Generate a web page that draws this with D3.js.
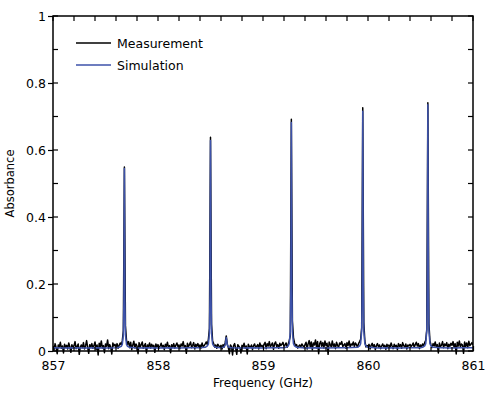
<!DOCTYPE html>
<html>
<head>
<meta charset="utf-8">
<script src="https://cdn.jsdelivr.net/npm/d3@7/dist/d3.min.js"></script>
<style>
  html, body { margin: 0; padding: 0; background: #fff; }
  svg { display: block; }
  text { font-family: "DejaVu Sans", Verdana, sans-serif; fill: #000; }
</style>
</head>
<body>
<svg id="chart" width="489" height="394"></svg>
<script>
// ---- Data ----
const xDomain = [857, 861];
const yDomain = [0, 1];
const xTickValues = [857, 858, 859, 860, 861];
const yTickValues = [0, 0.2, 0.4, 0.6, 0.8, 1];
const yTickLabels = ["0", "0.2", "0.4", "0.6", "0.8", "1"];
const seriesNames = ["Measurement", "Simulation"];

// Measurement: sampled every 0.01 GHz starting at 857.00
const measStart = 857.00;
const measStep = 0.01;
const measAbs = [
  .015,.004,.022,.010,-.008,.018,.012,.026,.008,.015,-.006,.020,.011,.017,.006,.024,.013,-.004,.019,.009,
  .016,.028,.007,.014,.021,-.010,.012,.018,.010,.025,.006,.015,.031,.011,-.007,.019,.013,.022,.008,.016,
  .027,.005,.018,-.012,.023,.012,.030,.009,.016,-.005,.021,.014,.033,.007,.019,.011,-.009,.024,.015,.020,
  .012,.022,.008,.017,.024,.018,.030,.060,.549,.075,.032,.020,.028,.010,.026,.004,.018,.029,.009,.021,
  .015,-.008,.025,.011,.019,.027,.008,.016,.022,-.006,.018,.013,.024,.009,.020,.014,.017,-.004,.021,.012,
  .019,.008,.015,.023,.011,.017,.004,.020,.014,.026,.010,.016,-.005,.019,.012,.022,.009,.017,.024,.013,
  .018,.007,.021,.015,.028,.011,.016,-.007,.023,.013,.019,.027,.010,.017,.025,.006,.020,.014,.022,.012,
  .018,.009,.024,.013,.016,.021,.027,.019,.035,.068,.638,.080,.030,.022,.012,.018,.008,.020,.015,.011,
  .017,.006,.019,.012,.025,.045,.020,.010,-.008,.018,.013,-.012,.016,.022,.008,-.010,.019,.014,.010,-.006,
  .017,.012,.023,.009,.015,-.009,.020,.013,.011,.018,.004,.016,.021,.010,.014,.019,.006,.024,.013,.017,
  .011,.020,.026,.007,.022,.015,.028,.012,.018,.024,.005,.021,.027,.014,.019,.008,.023,.016,.020,.026,
  .013,.018,.024,.011,.020,.031,.045,.692,.090,.040,.025,.015,.019,.009,.014,.018,.012,.021,.016,.010,
  .019,.026,.006,.022,.031,.012,.027,.003,.024,.018,.033,.010,.028,-.008,.022,.029,.014,.025,.009,.030,
  .016,.023,-.010,.027,.019,.012,.030,.014,.021,.007,.026,.017,.011,.024,.020,.028,.013,.018,.022,.008,
  .025,.016,.030,.012,.021,.018,.027,.013,.024,.019,.011,.022,.028,.035,.070,.726,.085,.030,.012,.016,
  .014,.020,.006,.017,.023,.011,.019,.004,.016,.022,.012,.018,.007,.015,.021,.013,.017,.005,.020,.014,
  .018,.011,.024,.015,.007,.020,.013,.017,.004,.022,.014,.019,.008,.025,.016,.012,.021,.006,.018,.015,
  .020,.013,.017,.024,.011,.019,.026,.015,.022,.007,.018,.012,.021,.016,.025,.032,.065,.741,.082,.030,
  .018,.010,.022,.015,.027,.012,.019,-.006,.024,.013,.017,.028,.010,.021,.016,.025,.007,.020,.014,.023,
  .017,.028,.011,.022,-.009,.026,.015,.030,.012,.021,.018,-.007,.027,.014,.024,.010,.029,.016,.020,.025,
  .018
];

// Simulation: explicit frequency / absorbance pairs
const simFreq = [
  857.00,857.10,857.20,857.30,857.40,857.50,857.60,
  857.63,857.65,857.66,857.67,857.675,857.68,857.685,857.69,857.70,857.71,857.73,
  857.80,857.90,858.00,858.10,858.20,858.30,858.40,
  858.45,858.47,858.48,858.49,858.495,858.50,858.505,858.51,858.52,858.53,858.55,
  858.60,858.63,858.64,858.65,858.66,858.67,858.70,
  858.80,858.90,859.00,859.10,859.20,
  859.22,859.24,859.25,859.26,859.265,859.27,859.275,859.28,859.29,859.30,859.32,
  859.40,859.50,859.60,859.70,859.80,
  859.90,859.92,859.93,859.94,859.945,859.95,859.955,859.96,859.97,859.98,860.00,
  860.10,860.20,860.30,860.40,860.50,
  860.52,860.54,860.55,860.56,860.565,860.57,860.575,860.58,860.59,860.60,860.62,
  860.70,860.80,860.90,861.00
];
const simAbs = [
  .010,.009,.010,.009,.010,.009,.010,
  .011,.014,.020,.048,.150,.545,.150,.048,.020,.014,.011,
  .009,.010,.009,.010,.009,.010,.010,
  .011,.015,.021,.053,.170,.628,.170,.053,.021,.015,.011,
  .010,.012,.018,.040,.018,.012,.010,
  .009,.010,.009,.010,.010,
  .011,.015,.022,.057,.185,.682,.185,.057,.022,.015,.011,
  .009,.010,.009,.010,.010,
  .011,.015,.022,.060,.195,.716,.195,.060,.022,.015,.011,
  .009,.010,.009,.010,.010,
  .011,.015,.022,.061,.200,.735,.200,.061,.022,.015,.011,
  .010,.009,.010,.010
];

// ---- Layout ----
const margin = { left: 53, right: 16, top: 16, bottom: 43 };
const W = 489, H = 394;
const svg = d3.select("#chart");

const x = d3.scaleLinear().domain(xDomain).range([margin.left, W - margin.right]);
const y = d3.scaleLinear().domain(yDomain).range([H - margin.bottom, margin.top]);

const measData = measAbs.map((v, i) => ({ f: measStart + i * measStep, a: v }));
const simData = simFreq.map((f, i) => ({ f: f, a: simAbs[i] }));

const line = d3.line().x(d => x(d.f)).y(d => y(d.a));

svg.append("clipPath").attr("id", "clip")
  .append("rect")
  .attr("x", margin.left).attr("y", margin.top)
  .attr("width", W - margin.left - margin.right)
  .attr("height", H - margin.top - margin.bottom + 6);

const plot = svg.append("g").attr("clip-path", "url(#clip)");

plot.append("path").datum(measData)
  .attr("d", line)
  .attr("fill", "none")
  .attr("stroke", "#000")
  .attr("stroke-width", 1.5)
  .attr("stroke-linejoin", "round");

plot.append("path").datum(simData)
  .attr("d", line)
  .attr("fill", "none")
  .attr("stroke", "#3d52aa")
  .attr("stroke-width", 1.5)
  .attr("stroke-linejoin", "round");

// ---- Axes ----
const minorX = d3.range(0, 21).map(i => 857 + i * 0.2).filter(v => !xTickValues.some(t => Math.abs(t - v) < 1e-6));
const minorY = d3.range(0, 11).map(i => i * 0.1).filter(v => !yTickValues.some(t => Math.abs(t - v) < 1e-6));

const x0 = margin.left, x1 = W - margin.right, y0 = H - margin.bottom, y1 = margin.top;

// bottom axis
const gB = svg.append("g").attr("transform", `translate(0,${y0})`)
  .call(d3.axisBottom(x).tickValues(xTickValues).tickSize(-5).tickPadding(10).tickFormat(d3.format("d")));
gB.selectAll(".tick text").attr("font-size", 12.5).attr("font-family", "DejaVu Sans, sans-serif");
gB.select(".domain").remove();
gB.selectAll(".tick line").attr("stroke-width", 1.2);

svg.append("g").selectAll("line").data(minorX).join("line")
  .attr("x1", d => x(d)).attr("x2", d => x(d))
  .attr("y1", y0).attr("y2", y0 - 4)
  .attr("stroke", "#000").attr("stroke-width", 1.2);

// top axis ticks
svg.append("g").selectAll("line").data(xTickValues.concat(minorX)).join("line")
  .attr("x1", d => x(d)).attr("x2", d => x(d))
  .attr("y1", y1).attr("y2", y1 + 5)
  .attr("stroke", "#000").attr("stroke-width", 1.2);

// left axis
const gL = svg.append("g").attr("transform", `translate(${x0},0)`)
  .call(d3.axisLeft(y).tickValues(yTickValues).tickSize(5).tickPadding(2)
    .tickFormat((d, i) => yTickLabels[i]));
gL.select(".domain").remove();
gL.selectAll(".tick text").attr("font-size", 12.5).attr("font-family", "DejaVu Sans, sans-serif");
gL.selectAll(".tick line").attr("stroke-width", 1.2);

svg.append("g").selectAll("line").data(yTickValues.concat(minorY)).join("line")
  .attr("x1", x0).attr("x2", x0 + 5)
  .attr("y1", d => y(d)).attr("y2", d => y(d))
  .attr("stroke", "#000").attr("stroke-width", 1.2);

// right axis ticks
svg.append("g").selectAll("line").data(yTickValues.concat(minorY)).join("line")
  .attr("x1", x1).attr("x2", x1 - 5)
  .attr("y1", d => y(d)).attr("y2", d => y(d))
  .attr("stroke", "#000").attr("stroke-width", 1.2);

// frame
svg.append("rect")
  .attr("x", x0).attr("y", y1)
  .attr("width", x1 - x0).attr("height", y0 - y1)
  .attr("fill", "none").attr("stroke", "#000").attr("stroke-width", 1.5);

// axis titles
svg.append("text")
  .attr("x", (x0 + x1) / 2).attr("y", 387)
  .attr("text-anchor", "middle").attr("font-size", 12)
  .text("Frequency (GHz)");

svg.append("text")
  .attr("transform", `translate(14,${(y0 + y1) / 2}) rotate(-90)`)
  .attr("text-anchor", "middle").attr("font-size", 11.5)
  .text("Absorbance");

// legend
const legendColors = ["#000", "#3d52aa"];
const lg = svg.append("g");
seriesNames.forEach((name, i) => {
  const ly = 43 + i * 22;
  lg.append("line").attr("x1", 76).attr("x2", 111).attr("y1", ly).attr("y2", ly)
    .attr("stroke", legendColors[i]).attr("stroke-width", 1.4);
  lg.append("text").attr("x", 117).attr("y", ly + 4.5).attr("font-size", 12.5).text(name);
});
</script>
</body>
</html>
